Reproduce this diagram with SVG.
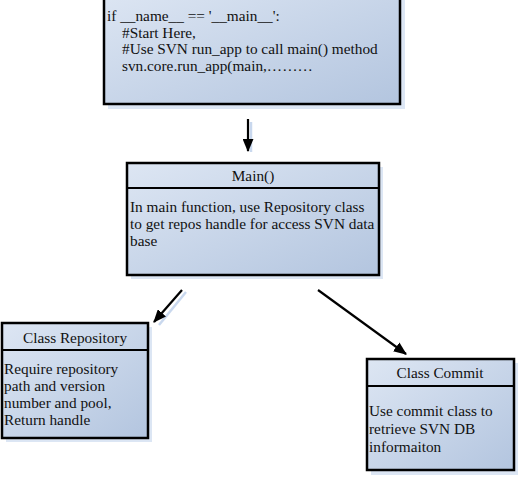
<svg xmlns="http://www.w3.org/2000/svg" width="520" height="480" viewBox="0 0 520 480">
<defs>
<linearGradient id="g" x1="0" y1="0" x2="1" y2="1">
<stop offset="0" stop-color="#dde6f3"/>
<stop offset="1" stop-color="#b3c5df"/>
</linearGradient>
<marker id="ah" viewBox="0 0 12 10" refX="11" refY="5" markerWidth="6" markerHeight="5" orient="auto" markerUnits="strokeWidth">
<path d="M0,0 L12,5 L0,10 z" fill="#000"/>
</marker>
<style>
.box{fill:url(#g);stroke:#000;stroke-width:2.5}
.sh{fill:#dce6f4}
.div{stroke:#000;stroke-width:2}
.t{font-family:"Liberation Serif","Times New Roman",serif;font-size:15.3px;fill:#111}
.c{text-anchor:middle}
.code{font-family:"Liberation Serif","Times New Roman",serif;font-size:15.3px;fill:#111}
.conn{stroke:#000;stroke-width:2.2;fill:none;marker-end:url(#ah)}
.csh{stroke:#c9d8ee;stroke-width:2.5;fill:none}
</style>
</defs>
<rect width="520" height="480" fill="#fff"/>
<g id="top">
<rect class="sh" x="108" y="-5" width="297" height="114"/>
<rect class="box" x="104" y="-10" width="296" height="114"/>
<text class="code" x="107" y="21">if __name__ == '__main__':</text>
<text class="code" x="122" y="38">#Start Here,</text>
<text class="code" x="122" y="54">#Use SVN run_app to call main() method</text>
<text class="code" x="122" y="71">svn.core.run_app(main,………</text>
</g>
<g id="main">
<rect class="sh" x="131" y="167" width="252" height="112"/>
<rect class="box" x="127" y="163" width="252" height="112"/>
<line class="div" x1="127" y1="188" x2="379" y2="188"/>
<text class="t c" x="253" y="181">Main()</text>
<text class="t" x="130" y="212">In main function, use Repository class</text>
<text class="t" x="130" y="229">to get repos handle for access SVN data</text>
<text class="t" x="130" y="246">base</text>
</g>
<g id="repo">
<rect class="sh" x="6" y="327" width="146" height="115"/>
<rect class="box" x="2" y="323" width="146" height="115"/>
<line class="div" x1="2" y1="350" x2="148" y2="350"/>
<text class="t c" x="75" y="343">Class Repository</text>
<text class="t" x="4" y="374">Require repository</text>
<text class="t" x="4" y="391">path and version</text>
<text class="t" x="4" y="408">number and pool,</text>
<text class="t" x="4" y="425">Return handle</text>
</g>
<g id="commit">
<rect class="sh" x="371" y="363" width="147" height="112"/>
<rect class="box" x="367" y="359" width="147" height="111"/>
<line class="div" x1="367" y1="386" x2="514" y2="386"/>
<text class="t c" x="440" y="378">Class Commit</text>
<text class="t" x="369" y="416">Use commit class to</text>
<text class="t" x="369" y="434">retrieve SVN DB</text>
<text class="t" x="369" y="452">informaiton</text>
</g>
<g id="connectors">
<line class="csh" x1="251" y1="122" x2="251" y2="152"/>
<line class="csh" x1="186" y1="292" x2="159" y2="325"/>
<line class="conn" x1="248" y1="119" x2="248" y2="151"/>
<line class="conn" x1="182" y1="290" x2="154" y2="322"/>
<line class="conn" x1="318" y1="290" x2="406" y2="354"/>
</g>
</svg>
